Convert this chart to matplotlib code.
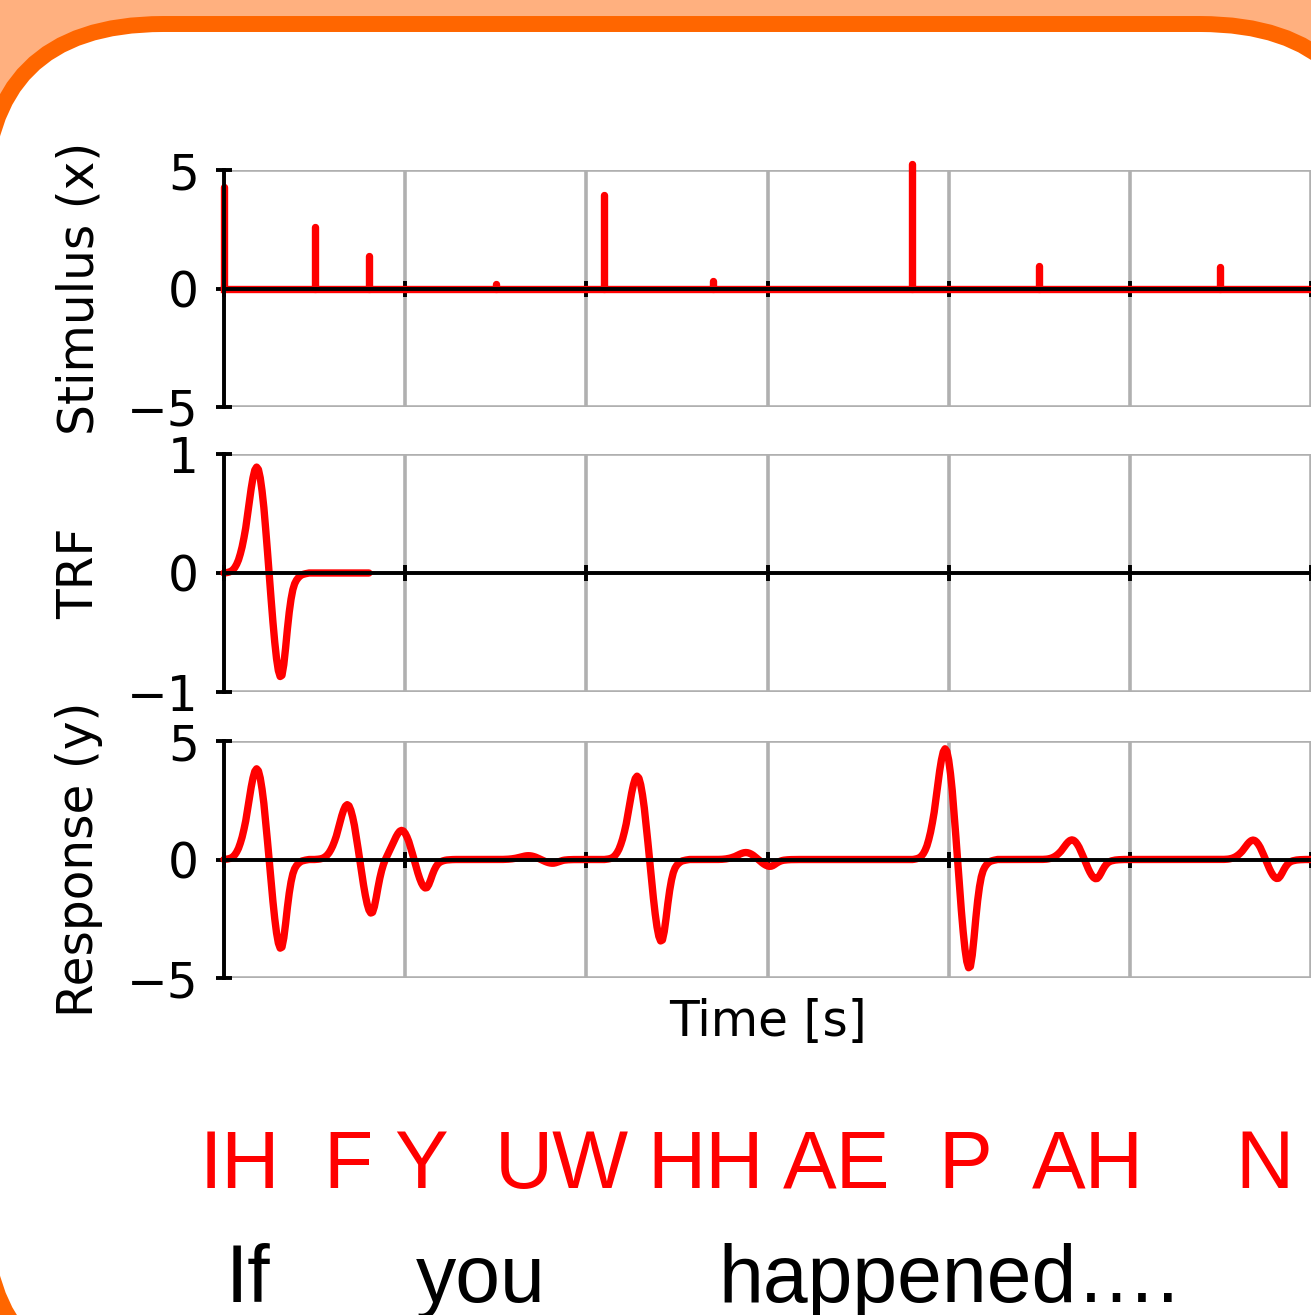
import numpy as np
import matplotlib.pyplot as plt
import matplotlib.transforms as mtransforms
from matplotlib.patches import FancyBboxPatch

# sampling step of the time axis
dt = 0.01

# stimulus impulses (time, amplitude)
spike_times = [0.0, 0.5, 0.8, 1.5, 2.1, 2.7, 3.8, 4.5, 5.5]
spike_heights = [4.3, 2.6, 1.38, 0.18, 3.95, 0.33, 5.25, 0.93, 0.92]

# TRF, one value every dt from 0 to 0.8
trf_values = [0.0, 0.002, 0.005, 0.009, 0.016, 0.028, 0.047, 0.074, 0.11, 0.16,
              0.22, 0.295, 0.38, 0.49, 0.60, 0.71, 0.80, 0.865, 0.89, 0.87,
              0.80, 0.69, 0.55, 0.37, 0.18, -0.02, -0.22, -0.41, -0.58, -0.72,
              -0.82, -0.87, -0.86, -0.77, -0.63, -0.47, -0.33, -0.22, -0.14, -0.09,
              -0.06, -0.04, -0.025, -0.015, -0.01, -0.006, -0.003,
              0, 0, 0, 0, 0, 0, 0, 0, 0, 0, 0, 0, 0, 0, 0, 0, 0,
              0, 0, 0, 0, 0, 0, 0, 0, 0, 0, 0, 0, 0, 0, 0, 0, 0]

# labels under the plot
phonemes = ['IH', 'F', 'Y', 'UW', 'HH', 'AE', 'P', 'AH', 'N']
phoneme_x = [0.086, 0.684, 1.087, 1.865, 2.66, 3.383, 4.089, 4.768, 5.745]
words = ['If', 'you', 'happened….']
word_x = [0.134, 1.416, 4.0]

t_max = 6.0

# build the stimulus series and the response (stimulus convolved with TRF)
n = int(round(t_max / dt)) + 1
t = np.arange(n) * dt
stim = np.zeros(n)
for st, sh in zip(spike_times, spike_heights):
    stim[int(round(st / dt))] = sh
trf = np.array(trf_values)
t_trf = np.arange(len(trf)) * dt
resp = np.convolve(stim, trf)[:n]

W, H = 1311, 1315
fig = plt.figure(figsize=(W / 100, H / 100), dpi=100, facecolor='#ffb07f')

# rounded white panel with orange border
bg = fig.add_axes([0, 0, 1, 1], zorder=-1)
bg.set_xlim(0, W)
bg.set_ylim(H, 0)
bg.axis('off')
bg.add_patch(FancyBboxPatch((-16, 24), 1395, 1364,
                            boxstyle='round,pad=0,rounding_size=179',
                            facecolor='white', edgecolor='#ff6600', lw=11.5))

red = '#ff0000'
lw_red = 5.3
fs = 35
left = 224 / W
width = 1 - left

def style_axis(ax, ylim, yticks, label):
    ax.set_xlim(0, t_max)
    ax.set_ylim(*ylim)
    ax.set_xticks(range(0, 7))
    ax.set_xticklabels([])
    ax.set_yticks(yticks)
    ax.tick_params(direction='inout', length=12, width=2.8, labelsize=fs, pad=12)
    ax.spines['top'].set_visible(False)
    ax.spines['right'].set_visible(False)
    ax.spines['bottom'].set_position('zero')
    ax.spines['left'].set_linewidth(2.8)
    ax.spines['bottom'].set_linewidth(2.8)
    ax.grid(True, color='#b0b0b0', lw=2.6)
    ax.set_axisbelow(True)
    ax.set_ylabel(label, fontsize=fs)
    ax.yaxis.set_label_coords(-0.111, 0.5)
    ax.set_facecolor('none')

# stimulus
ax1 = fig.add_axes([left, 1 - 407 / H, width, 237 / H])
style_axis(ax1, (-5, 5), [-5, 0, 5], 'Stimulus (x)')
ax1.plot([0, t_max], [0, 0], color=red, lw=lw_red, clip_on=False)
vl = ax1.vlines(spike_times, 0, spike_heights, color=red, lw=lw_red, clip_on=False)
vl.set_capstyle('round')

# TRF
ax2 = fig.add_axes([left, 1 - 692 / H, width, 238 / H])
style_axis(ax2, (-1, 1), [-1, 0, 1], 'TRF')
ax2.plot(t_trf, trf, color=red, lw=lw_red, clip_on=False,
         solid_capstyle='round', solid_joinstyle='round')

# response
ax3 = fig.add_axes([left, 1 - 978 / H, width, 237 / H])
style_axis(ax3, (-5, 5), [-5, 0, 5], 'Response (y)')
ax3.plot(t, resp, color=red, lw=lw_red, clip_on=False,
         solid_capstyle='round', solid_joinstyle='round')
ax3.set_xlabel('Time [s]', fontsize=fs)
ax3.xaxis.set_label_coords(0.5, -0.085)

# phonemes and words
trans = mtransforms.blended_transform_factory(ax3.transData, fig.transFigure)
for ph, x in zip(phonemes, phoneme_x):
    fig.text(x, 1 - 1188 / H, ph, transform=trans, ha='center', va='baseline',
             color=red, fontsize=58, family='Liberation Sans')
for wd, x in zip(words, word_x):
    fig.text(x, 1 - 1302 / H, wd, transform=trans, ha='center', va='baseline',
             color='black', fontsize=58, family='Liberation Sans')

fig.savefig('out.png', dpi=100)
